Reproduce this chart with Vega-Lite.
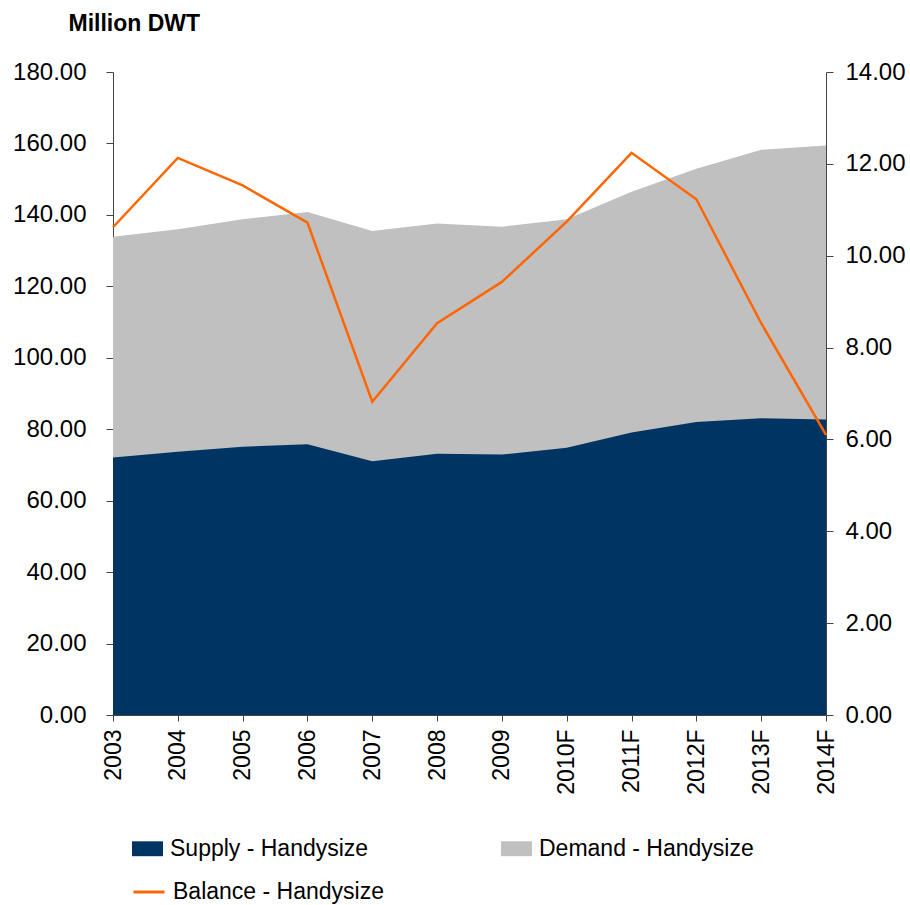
{
  "$schema": "https://vega.github.io/schema/vega-lite/v6.json",
  "width": 713,
  "height": 643,
  "autosize": {"type": "none"},
  "padding": {"left": 113, "top": 72, "right": 84, "bottom": 190},
  "background": "white",
  "config": {
    "view": {"stroke": null},
    "font": "Liberation Sans",
    "axis": {"labelFont": "Liberation Sans", "labelColor": "#000000", "titleColor": "#000000", "domainColor": "#444444", "tickColor": "#444444", "grid": false},
    "legend": {"labelFont": "Liberation Sans", "labelColor": "#000000"}
  },
  "data": {
    "values": [
      {"year": "2003", "supply": 72.1, "demand": 133.9, "balance": 10.62},
      {"year": "2004", "supply": 73.7, "demand": 136.0, "balance": 12.13},
      {"year": "2005", "supply": 75.1, "demand": 138.8, "balance": 11.53},
      {"year": "2006", "supply": 75.8, "demand": 140.8, "balance": 10.72},
      {"year": "2007", "supply": 71.0, "demand": 135.5, "balance": 6.82},
      {"year": "2008", "supply": 73.1, "demand": 137.6, "balance": 8.53},
      {"year": "2009", "supply": 72.9, "demand": 136.7, "balance": 9.43},
      {"year": "2010F", "supply": 74.8, "demand": 138.8, "balance": 10.74},
      {"year": "2011F", "supply": 79.1, "demand": 146.5, "balance": 12.24},
      {"year": "2012F", "supply": 82.0, "demand": 152.9, "balance": 11.23},
      {"year": "2013F", "supply": 83.1, "demand": 158.2, "balance": 8.53},
      {"year": "2014F", "supply": 82.7, "demand": 159.4, "balance": 6.10}
    ]
  },
  "encoding": {
    "x": {
      "field": "year",
      "type": "ordinal",
      "sort": null,
      "scale": {"type": "point", "padding": 0},
      "axis": {"title": null, "labelAngle": -90, "labelFontSize": 23, "labelPadding": 8, "tickSize": 6, "labelBaseline": "middle"}
    }
  },
  "layer": [
    {
      "layer": [
        {
          "mark": {"type": "area", "interpolate": "linear"},
          "encoding": {
            "y": {
              "field": "demand",
              "type": "quantitative",
              "scale": {"domain": [0, 180], "nice": false, "zero": true},
              "axis": {
                "orient": "left",
                "values": [0, 20, 40, 60, 80, 100, 120, 140, 160, 180],
                "format": ".2f",
                "labelFontSize": 24,
                "labelPadding": 20,
                "tickSize": 7,
                "title": "Million DWT",
                "titleAngle": 0,
                "titleAlign": "left",
                "titleBaseline": "alphabetic",
                "titleX": -45,
                "titleY": -42,
                "titleFontSize": 23,
                "titleFontWeight": "bold",
                "titleFont": "Liberation Sans"
              }
            },
            "fill": {
              "datum": "Demand - Handysize",
              "scale": {"domain": ["Supply - Handysize", "Demand - Handysize"], "range": ["#003462", "#C0C0C0"]},
              "legend": {
                "orient": "none",
                "legendX": 19,
                "legendY": 761,
                "direction": "horizontal",
                "columns": 2,
                "title": null,
                "labelFontSize": 23,
                "symbolType": "M-1,-0.48H1V0.48H-1Z",
                "symbolSize": 961,
                "symbolStrokeWidth": 0,
                "labelOffset": 7,
                "columnPadding": 132,
                "labelLimit": 400
              }
            }
          }
        },
        {
          "mark": {"type": "area", "interpolate": "linear"},
          "encoding": {
            "y": {"field": "supply", "type": "quantitative", "scale": {"domain": [0, 180], "nice": false, "zero": true}},
            "fill": {"datum": "Supply - Handysize"}
          }
        }
      ]
    },
    {
      "mark": {"type": "line", "strokeWidth": 2.5, "interpolate": "linear"},
      "encoding": {
        "y": {
          "field": "balance",
          "type": "quantitative",
          "scale": {"domain": [0, 14], "nice": false, "zero": true},
          "axis": {
            "orient": "right",
            "values": [0, 2, 4, 6, 8, 10, 12, 14],
            "format": ".2f",
            "labelFontSize": 24,
            "labelPadding": 12,
            "tickSize": 7,
            "title": null
          }
        },
        "stroke": {
          "datum": "Balance - Handysize",
          "scale": {"domain": ["Balance - Handysize"], "range": ["#FF6600"]},
          "legend": {
            "orient": "none",
            "legendX": 19,
            "legendY": 803,
            "title": null,
            "labelFontSize": 23,
            "symbolType": "stroke",
            "symbolSize": 961,
            "symbolStrokeWidth": 3,
            "labelOffset": 7,
            "labelLimit": 400
          }
        }
      }
    }
  ],
  "resolve": {"scale": {"y": "independent"}}
}
